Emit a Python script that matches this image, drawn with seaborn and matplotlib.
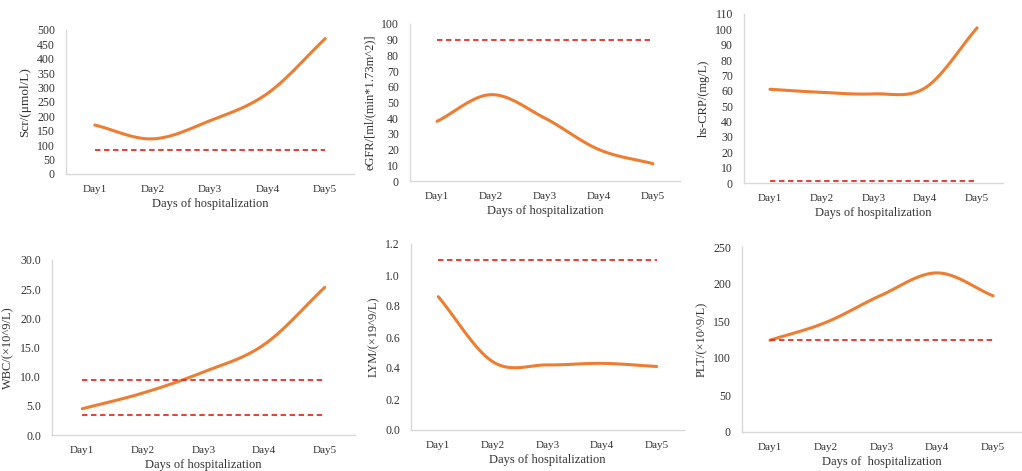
import numpy as np
import matplotlib
matplotlib.use("Agg")
import matplotlib.pyplot as plt
import pandas as pd
import seaborn as sns

days = ["Day1", "Day2", "Day3", "Day4", "Day5"]
scr = [170, 122, 185, 280, 470]
egfr = [38, 55, 40, 20, 11]
crp = [61, 59, 58, 62, 101]
wbc = [4.5, 7.2, 10.8, 15.5, 25.3]
lym = [0.86, 0.44, 0.42, 0.43, 0.41]
plt_count = [124, 148, 185, 215, 184]

# normal-range reference lines
scr_ref = [85]
egfr_ref = [90]
crp_ref = [1]
wbc_ref = [9.5, 3.5]
lym_ref = [1.1]
plt_ref = [125]

ylabels = ["Scr/(μmol/L)", "eGFR/[ml/(min*1.73m^2)]", "hs-CRP/(mg/L)",
           "WBC/(×10^9/L)", "LYM/(×19^9/L)", "PLT/(×10^9/L)"]
ylabel_sizes = [9.5, 9, 9, 9, 9, 9]
xlabels = ["Days of hospitalization"] * 5 + ["Days of  hospitalization"]

sns.set_theme(style="white")
plt.rcParams["font.family"] = ["Liberation Serif", "DejaVu Serif"]

ORANGE = "#ED7D31"
RED = "#E0302A"
GREY = "#D9D9D9"
TEXT = "#333333"


def smooth(y, n=30):
    # Catmull-Rom curve through the points, like a spreadsheet "smoothed line"
    x = np.arange(len(y), dtype=float)
    y = np.asarray(y, dtype=float)
    px = np.concatenate([[2 * x[0] - x[1]], x, [2 * x[-1] - x[-2]]])
    py = np.concatenate([[2 * y[0] - y[1]], y, [2 * y[-1] - y[-2]]])
    xs, ys = [], []
    t = np.linspace(0, 1, n)
    for i in range(1, len(px) - 2):
        for p, out in ((px, xs), (py, ys)):
            p0, p1, p2, p3 = p[i - 1], p[i], p[i + 1], p[i + 2]
            out.append(0.5 * (2 * p1 + (-p0 + p2) * t
                              + (2 * p0 - 5 * p1 + 4 * p2 - p3) * t ** 2
                              + (-p0 + 3 * p1 - 3 * p2 + p3) * t ** 3))
    return np.concatenate(xs), np.concatenate(ys)


W, H = 1022, 471
fig = plt.figure(figsize=(W / 100, H / 100), dpi=100)

# pixel boxes: left, top, right, bottom
panels = [
    (scr, scr_ref, (0, 500), 50, "{:.0f}", (66, 30, 354, 174)),
    (egfr, egfr_ref, (0, 100), 10, "{:.0f}", (410, 24, 680, 181)),
    (crp, crp_ref, (0, 110), 10, "{:.0f}", (744, 14, 1003, 183)),
    (wbc, wbc_ref, (0, 30), 5, "{:.1f}", (52, 260, 355, 435)),
    (lym, lym_ref, (0, 1.2), 0.2, "{:.1f}", (411, 244, 684, 430)),
    (plt_count, plt_ref, (0, 250), 50, "{:.0f}", (742, 247, 1021, 432)),
]

for i, (vals, refs, ylim, step, fmt, box) in enumerate(panels):
    l, t, r, b = box
    ax = fig.add_axes([l / W, 1 - b / H, (r - l) / W, (b - t) / H])
    sx, sy = smooth(vals)
    df = pd.DataFrame({"x": sx, "y": sy})
    sns.lineplot(data=df, x="x", y="y", ax=ax, color=ORANGE, lw=2.2,
                 sort=False, estimator=None)
    for ref in refs:
        ax.hlines(ref, 0, len(days) - 1, colors=RED, linestyles=(0, (3, 2)), lw=1.3)
    ax.set_xlim(-0.5, len(days) - 0.5)
    ax.set_ylim(*ylim)
    ticks = np.arange(0, ylim[1] + step / 2, step)
    ax.set_yticks(ticks)
    ax.set_yticklabels([fmt.format(v) for v in ticks], fontsize=8.5, color=TEXT)
    ax.set_xticks(range(len(days)))
    ax.set_xticklabels(days, fontsize=8, color=TEXT)
    ax.tick_params(length=0, pad=8)
    ax.set_ylabel(ylabels[i], fontsize=ylabel_sizes[i], color=TEXT)
    ax.set_xlabel(xlabels[i], fontsize=9, color=TEXT, labelpad=3)
    for s in ["top", "right"]:
        ax.spines[s].set_visible(False)
    for s in ["left", "bottom"]:
        ax.spines[s].set_color(GREY)
        ax.spines[s].set_linewidth(1)
    ax.patch.set_alpha(0)

fig.savefig("out.png", dpi=100, facecolor="white")
